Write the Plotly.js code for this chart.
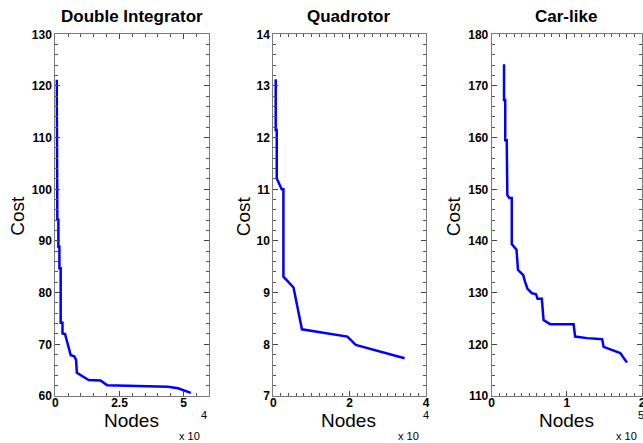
<!DOCTYPE html>
<html>
<head>
<meta charset="utf-8">
<script src="https://cdn.plot.ly/plotly-3.0.1.min.js"></script>
<style>html,body{margin:0;padding:0;background:#fff;}#chart{width:643px;height:443px;}</style>
</head>
<body>
<div id="chart"></div>
<script>
// ---- Data ----
const panelTitles = ["Double Integrator", "Quadrotor", "Car-like"];

const diNodes = [550, 550, 800, 800, 1200, 1200, 1600, 1600, 2100, 2100, 2800, 2800, 3800, 6000, 7400, 8100, 8400, 13000, 17600, 20200, 36000, 43900, 47800, 52800];
const diCost  = [121.2, 107.6, 107.6, 94.1, 94.1, 88.9, 88.9, 84.7, 84.7, 74.2, 74.2, 72.1, 72.0, 67.9, 67.7, 67.0, 64.5, 63.1, 63.0, 62.1, 61.9, 61.8, 61.5, 60.6];

const qNodes = [630, 630, 900, 900, 2200, 2650, 2650, 5300, 7500, 19400, 21600, 34400];
const qCost  = [13.13, 12.15, 12.15, 11.21, 11.0, 11.0, 9.31, 9.10, 8.29, 8.15, 7.99, 7.73];

const cNodes = [16400, 16400, 18000, 18000, 20000, 20000, 20800, 23500, 26700, 26700, 31000, 33000, 35000, 42000, 44400, 47500, 53300, 59000, 61000, 66700, 69000, 77700, 109000, 111000, 127000, 147000, 149000, 171000, 180000];
const cCost  = [174.2, 167.3, 167.3, 159.5, 159.5, 155.3, 148.9, 148.3, 148.3, 139.4, 138.6, 138.3, 134.4, 133.4, 132.1, 130.8, 129.9, 129.7, 128.8, 128.8, 124.7, 123.9, 123.9, 121.5, 121.2, 121.0, 119.5, 118.3, 116.5];

const diXTickVals = [0, 25000, 50000];
const diXTickText = ["0", "2.5", "5"];
const qXTickVals = [0, 20000, 40000];
const qXTickText = ["0", "2", "4"];
const cXTickVals = [0, 100000, 200000];
const cXTickText = ["0", "1", "2"];
const exponents = ["4", "4", "5"];

// ---- Styling ----
const FONT = "Liberation Sans, Arial, Helvetica, sans-serif";
const W = 643, H = 443;
const px = v => v / W;
const py = v => 1 - v / H;
const yDom = [py(396), py(34.3)];
const xDoms = [[px(55.3), px(209.3)], [px(273.3), px(426)], [px(491.7), px(642)]];

const lineStyle = {color: "#0000ff", width: 2.5};
const traces = [
  {x: diNodes, y: diCost, type: "scatter", mode: "lines", line: lineStyle, xaxis: "x", yaxis: "y", hoverinfo: "skip", cliponaxis: false},
  {x: qNodes, y: qCost, type: "scatter", mode: "lines", line: lineStyle, xaxis: "x2", yaxis: "y2", hoverinfo: "skip", cliponaxis: false},
  {x: cNodes, y: cCost, type: "scatter", mode: "lines", line: lineStyle, xaxis: "x3", yaxis: "y3", hoverinfo: "skip", cliponaxis: false}
];

function xAxis(dom, range, vals, text, minorDtick, anchor) {
  return {
    domain: dom, range: range, anchor: anchor,
    tickmode: "array", tickvals: vals, ticktext: text,
    ticks: "inside", ticklen: 5, tickwidth: 1, tickcolor: "#444",
    ticklabelstandoff: -4, ticklabeloverflow: "allow",
    minor: {dtick: minorDtick, tick0: 0, ticks: "inside", ticklen: 3, tickcolor: "#555", tickwidth: 1, showgrid: false},
    showline: true, linecolor: "#7a7a7a", linewidth: 1, mirror: "allticks",
    showgrid: false, zeroline: false, automargin: false, fixedrange: true,
    tickfont: {family: FONT, size: 12, color: "#000", weight: "bold"}
  };
}
function yAxis(dom, range, dtick, minorDtick, anchor) {
  return {
    domain: dom, range: range, anchor: anchor,
    tickmode: "linear", tick0: range[0], dtick: dtick,
    ticks: "inside", ticklen: 5, tickwidth: 1, tickcolor: "#444",
    minor: {dtick: minorDtick, ticks: "inside", ticklen: 3, tickcolor: "#555", tickwidth: 1, showgrid: false},
    showline: true, linecolor: "#7a7a7a", linewidth: 1, mirror: "allticks",
    showgrid: false, zeroline: false, automargin: false, fixedrange: true,
    tickfont: {family: FONT, size: 12, color: "#000", weight: "bold"}
  };
}

const centersX = [132.3, 349.7, 566.9];
const costX = [16.7, 243.3, 453.3];
const expBaseX = [189, 408, 626];
const expSupX = [204, 425.7, 641];

const annotations = [];
for (let i = 0; i < 3; i++) {
  annotations.push({text: panelTitles[i], x: px(centersX[i] - (i === 1 ? 1.4 : 0.5)), y: py(17), xref: "paper", yref: "paper", showarrow: false, xanchor: "center", yanchor: "middle", font: {family: FONT, size: 17, color: "#000", weight: "bold"}});
  annotations.push({text: "Nodes", x: px(centersX[i] - (i === 1 ? 1.4 : 0.5)), y: py(420), xref: "paper", yref: "paper", showarrow: false, xanchor: "center", yanchor: "middle", font: {family: FONT, size: 19, color: "#000"}});
  annotations.push({text: "Cost", x: px(costX[i]), y: py(216), xref: "paper", yref: "paper", showarrow: false, textangle: -90, xanchor: "center", yanchor: "middle", font: {family: FONT, size: 19, color: "#000"}});
  annotations.push({text: "x 10", x: px(expBaseX[i]), y: py(436), xref: "paper", yref: "paper", showarrow: false, xanchor: "center", yanchor: "middle", font: {family: FONT, size: 11, color: "#000"}});
  annotations.push({text: exponents[i], x: px(expSupX[i]), y: py(415), xref: "paper", yref: "paper", showarrow: false, xanchor: "center", yanchor: "middle", font: {family: FONT, size: 11, color: "#000"}});
}

const layout = {
  width: W, height: H,
  margin: {l: 0, r: 0, t: 0, b: 0, pad: 0},
  paper_bgcolor: "#ffffff", plot_bgcolor: "#ffffff",
  showlegend: false,
  font: {family: FONT, color: "#000"},
  xaxis: xAxis(xDoms[0], [0, 60000], diXTickVals, diXTickText, 5000, "y"),
  yaxis: yAxis(yDom, [60, 130], 10, 2, "x"),
  xaxis2: xAxis(xDoms[1], [0, 40000], qXTickVals, qXTickText, 2000, "y2"),
  yaxis2: yAxis(yDom, [7, 14], 1, 0.2, "x2"),
  xaxis3: xAxis(xDoms[2], [0, 200000], cXTickVals, cXTickText, 10000, "y3"),
  yaxis3: yAxis(yDom, [110, 180], 10, 2, "x3"),
  annotations: annotations
};

Plotly.newPlot("chart", traces, layout, {staticPlot: true, displayModeBar: false});
</script>
</body>
</html>
